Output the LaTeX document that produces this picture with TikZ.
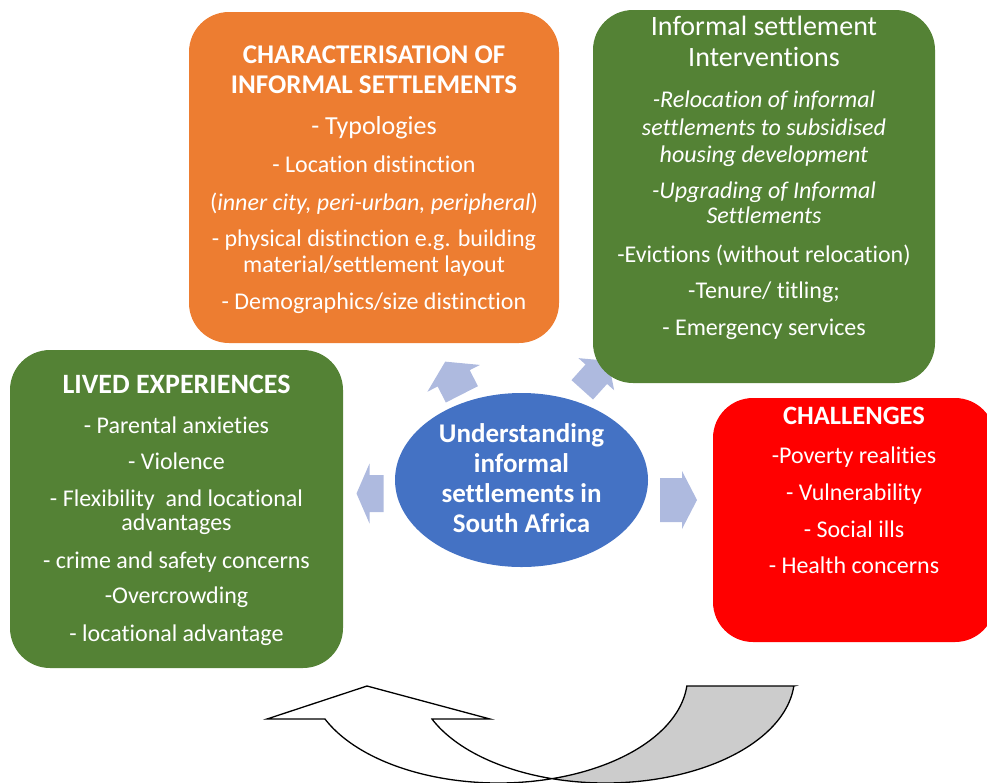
\documentclass[tikz,border=0pt]{standalone}
\usepackage{fontspec}
\setmainfont{Carlito}[Ligatures={NoCommon}]
\usetikzlibrary{shapes.geometric}
\definecolor{boxorange}{HTML}{ED7D31}
\definecolor{boxgreen}{HTML}{548235}
\definecolor{boxred}{HTML}{FF0000}
\definecolor{hubblue}{HTML}{4472C4}
\definecolor{flowblue}{HTML}{AEBADF}
\definecolor{bandgray}{HTML}{CCCCCC}
\begin{document}
\begin{tikzpicture}[x=1pt,y=-1pt,
  panel/.style={rectangle, rounded corners=40pt, inner sep=0pt, draw=none},
  paneltext/.style={anchor=north, inner sep=0pt, align=center, text=white,
    font=\fontsize{24}{26}\selectfont},
  flowarrow/.style={fill=flowblue, draw=none},
  band/.style={draw=black, line width=1.3pt, line join=miter}
]
\newcommand{\bighead}[2]{{\fontsize{#1}{26}\selectfont\bfseries #2}}
\useasboundingbox (0,0) rectangle (987,782);
\clip (0,0) rectangle (987,782);

% block arrows around the hub
\fill[flowarrow, shift={(682,500)}, rotate=0]
  (-22,-22) -- (0,-22) -- (0,-29) -- (15,0) -- (0,29) -- (0,22) -- (-22,22) -- cycle;
\fill[flowarrow, shift={(369.5,493.5)}, rotate=180]
  (-14,-18.5) -- (0,-18.5) -- (0,-30) -- (13,0) -- (0,30) -- (0,18.5) -- (-14,18.5) -- cycle;
\fill[flowarrow, shift={(453.7,378.3)}, rotate=117]
  (-18,-18) -- (0,-18) -- (0,-29.5) -- (18.7,0) -- (0,29.5) -- (0,18) -- (-18,18) -- cycle;
\fill[flowarrow, shift={(596.3,374.2)}, rotate=48]
  (-21,-14.5) -- (0,-14.5) -- (0,-24) -- (18,0) -- (0,24) -- (0,14.5) -- (-21,14.5) -- cycle;

% characterisation panel
\node[panel, fill=boxorange, minimum width=370pt, minimum height=331pt] (charbox) at (374,177.5) {};
\node[paneltext] (chartext) at (374,41) {\rule{0pt}{22pt}\bighead{27}{CHARACTERISATION OF}\\[4pt]
\bighead{27}{INFORMAL SETTLEMENTS}\\[15pt]
{\fontsize{26}{26}\selectfont - Typologies}\\[12pt]
- Location distinction\\[12pt]
(\textit{inner city, peri-urban, peripheral})\\[10pt]
- physical distinction e.g. building\\
material/settlement layout\\[11pt]
- Demographics/size distinction};

% interventions panel
\node[panel, fill=boxgreen, minimum width=342pt, minimum height=373pt] (intbox) at (764,196.5) {};
\node[paneltext] (inttext) at (764,13) {\rule{0pt}{22pt}{\fontsize{28}{28}\selectfont Informal settlement}\\[5pt]
{\fontsize{28}{28}\selectfont Interventions}\\[15pt]
\textit{-Relocation of informal}\\[2pt]
\textit{settlements to subsidised}\\[1pt]
\textit{housing development}\\[10pt]
\textit{-Upgrading of Informal}\\[-1pt]
\textit{Settlements}\\[13pt]
-Evictions (without relocation)\\[10pt]
-Tenure/ titling;\\[11pt]
- Emergency services};

% lived experiences panel
\node[panel, fill=boxgreen, minimum width=333pt, minimum height=318pt] (livedbox) at (176.5,509) {};
\node[paneltext] (livedtext) at (176.5,371) {\rule{0pt}{22pt}\bighead{28}{LIVED EXPERIENCES}\\[14pt]
- Parental anxieties\\[10pt]
- Violence\\[11pt]
- Flexibility \ and locational\\[-2pt]
advantages\\[12pt]
- crime and safety concerns\\[9pt]
-Overcrowding\\[12pt]
- locational advantage};

% challenges panel
\node[panel, fill=boxred, minimum width=282pt, minimum height=244pt] (challbox) at (854,520) {};
\node[paneltext] (challtext) at (854,402) {\rule{0pt}{22pt}\bighead{26.5}{CHALLENGES}\\[13pt]
-Poverty realities\\[11pt]
- Vulnerability\\[11pt]
- Social ills\\[10pt]
- Health concerns};

% central hub
\node[ellipse, fill=hubblue, minimum width=253pt, minimum height=174pt, inner sep=0pt,
  align=center, text=white, font=\fontsize{27}{29.7}\selectfont\bfseries] (hub) at (521.5,480)
  {\rule{0pt}{22pt}Understanding\\informal\\settlements in\\South Africa\rule[-7pt]{0pt}{7pt}};

% curved return arrow: back face
\filldraw[band, fill=bandgray] (687,686) -- (794,686)
  -- plot[domain=4.9:106.4, samples=60, smooth] ({605.5+189*cos(\x)},{677+106*sin(\x)})
  -- plot[domain=73.6:4.9, samples=60, smooth] ({498.5+189*cos(\x)},{677+106*sin(\x)})
  -- cycle;
% curved return arrow: front face with head
\filldraw[band, fill=white] (325,719) -- (267,719) -- (367,686) -- (490,719) -- (432,719)
  -- plot[domain=156.6:106.4, samples=60, smooth] ({605.5+189*cos(\x)},{677+106*sin(\x)})
  -- plot[domain=73.6:156.6, samples=60, smooth] ({498.5+189*cos(\x)},{677+106*sin(\x)})
  -- cycle;
\end{tikzpicture}
\end{document}
